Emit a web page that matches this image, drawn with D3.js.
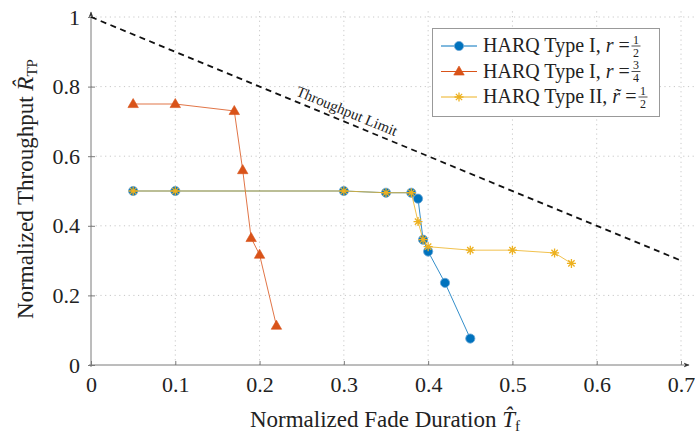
<!DOCTYPE html>
<html>
<head>
<meta charset="utf-8">
<script src="https://cdn.jsdelivr.net/npm/d3@7"></script>
<style>
  body { margin: 0; background: #fff; }
  .grid line { stroke: #c8c8c8; stroke-dasharray: 1.2,3.5; }
  .axis path, .axis line { stroke: #7a7a7a; }
</style>
</head>
<body>
<div id="chart"></div>
<script>
// fade duration / throughput values
var xTicks = [0, 0.1, 0.2, 0.3, 0.4, 0.5, 0.6, 0.7];
var yTicks = [0, 0.2, 0.4, 0.6, 0.8, 1];

var halfX = [0.05, 0.1, 0.3, 0.35, 0.38, 0.388, 0.394, 0.4, 0.42, 0.45];
var halfY = [0.5, 0.5, 0.5, 0.495, 0.495, 0.478, 0.36, 0.326, 0.236, 0.076];

var threeX = [0.05, 0.1, 0.17, 0.18, 0.19, 0.2, 0.22];
var threeY = [0.75, 0.75, 0.73, 0.56, 0.365, 0.317, 0.113];

var typeTwoX = [0.05, 0.1, 0.3, 0.35, 0.38, 0.388, 0.394, 0.4, 0.45, 0.5, 0.55, 0.57];
var typeTwoY = [0.5, 0.5, 0.5, 0.495, 0.495, 0.412, 0.36, 0.34, 0.33, 0.33, 0.322, 0.292];

var limitX = [0, 0.7];
var limitY = [1, 0.3];

var FONT = "Liberation Serif";

function zip(xs, ys) {
  return xs.map(function(x, i) { return {x: x, y: ys[i]}; });
}

var W = 695, H = 434;
var svg = d3.select("#chart").append("svg").attr("width", W).attr("height", H)
  .attr("font-family", FONT);

var x = d3.scaleLinear().domain([0, 0.7]).range([91, 681]);
var y = d3.scaleLinear().domain([0, 1]).range([365, 17]);

// grid
var grid = svg.append("g").attr("class", "grid");
grid.selectAll(".gx").data(xTicks.slice(1)).enter().append("line")
  .attr("x1", function(d) { return x(d); }).attr("x2", function(d) { return x(d); })
  .attr("y1", y(0)).attr("y2", y(1.02));
grid.selectAll(".gy").data(yTicks.slice(1)).enter().append("line")
  .attr("x1", x(0)).attr("x2", x(0.72))
  .attr("y1", function(d) { return y(d); }).attr("y2", function(d) { return y(d); });

// axes
var defs = svg.append("defs");
defs.append("marker").attr("id", "arr").attr("viewBox", "0 0 10 10")
  .attr("refX", 9).attr("refY", 5).attr("markerWidth", 6).attr("markerHeight", 6)
  .attr("orient", "auto")
  .append("path").attr("d", "M0,1 L10,5 L0,9 L3,5 Z").attr("fill", "#333");

var xAxis = svg.append("g").attr("class", "axis")
  .attr("transform", "translate(0," + y(0) + ")")
  .call(d3.axisBottom(x).tickValues(xTicks).tickSize(-4).tickPadding(11)
    .tickFormat(function(d) { return d === 0 ? "0" : d3.format(".1f")(d); }));
xAxis.select(".domain").remove();
xAxis.append("line").attr("x1", x(0) - 2).attr("x2", 689).attr("y1", 0).attr("y2", 0)
  .attr("stroke", "#7a7a7a").attr("marker-end", "url(#arr)");

var yAxis = svg.append("g").attr("class", "axis")
  .attr("transform", "translate(" + x(0) + ",0)")
  .call(d3.axisLeft(y).tickValues(yTicks).tickSize(-4).tickPadding(11)
    .tickFormat(function(d) { return d === 0 || d === 1 ? String(d) : d3.format(".1f")(d); }));
yAxis.select(".domain").remove();
yAxis.selectAll(".tick").append("line").attr("x1", -3).attr("x2", 0).attr("stroke", "#7a7a7a");
yAxis.append("line").attr("x1", 0).attr("x2", 0).attr("y1", y(0) + 2).attr("y2", 12)
  .attr("stroke", "#7a7a7a").attr("marker-end", "url(#arr)");

svg.selectAll(".axis").attr("font-family", FONT).attr("font-size", 22);
svg.selectAll(".axis text").attr("fill", "#222");

// throughput limit
var line = d3.line().x(function(d) { return x(d.x); }).y(function(d) { return y(d.y); });
svg.append("path").attr("d", line(zip(limitX, limitY)))
  .attr("fill", "none").attr("stroke", "#111").attr("stroke-width", 1.8)
  .attr("stroke-dasharray", "6,4.5");
var ang = Math.atan2(y(0) - y(0.7), x(0.7) - x(0)) * 180 / Math.PI;
svg.append("text").attr("transform", "translate(347,111) rotate(" + ang + ")")
  .attr("text-anchor", "middle").attr("dy", "0.35em").attr("font-size", 15).attr("fill", "#222")
  .text("Throughput Limit");

// series
var C_BLUE = "#0072BD", C_RED = "#D95319", C_YEL = "#EDB120";

function star(g, s) {
  g.append("path")
    .attr("d", "M" + (-s) + ",0H" + s + "M0," + (-s) + "V" + s +
      "M" + (-s * 0.7) + "," + (-s * 0.7) + "L" + (s * 0.7) + "," + (s * 0.7) +
      "M" + (-s * 0.7) + "," + (s * 0.7) + "L" + (s * 0.7) + "," + (-s * 0.7))
    .attr("stroke", C_YEL).attr("stroke-width", 1.3).attr("fill", "none");
}
function triangle(g, s) {
  g.append("path").attr("d", "M0," + (-s) + "L" + (s * 0.95) + "," + (s * 0.65) + "L" + (-s * 0.95) + "," + (s * 0.65) + "Z")
    .attr("fill", C_RED).attr("stroke", C_RED).attr("stroke-width", 0.6);
}
function circle(g, r) {
  g.append("circle").attr("r", r).attr("fill", C_BLUE).attr("stroke", "#6aa6d6").attr("stroke-width", 0.8);
}

var series = [
  {pts: zip(halfX, halfY), color: C_BLUE, mark: function(g) { circle(g, 4.6); }},
  {pts: zip(threeX, threeY), color: C_RED, mark: function(g) { triangle(g, 5.5); }},
  {pts: zip(typeTwoX, typeTwoY), color: C_YEL, mark: function(g) { star(g, 4.5); }}
];

series.forEach(function(s) {
  svg.append("path").attr("d", line(s.pts)).attr("fill", "none")
    .attr("stroke", s.color).attr("stroke-width", 1).attr("stroke-opacity", 0.8);
  svg.selectAll(null).data(s.pts).enter().append("g")
    .attr("transform", function(d) { return "translate(" + x(d.x) + "," + y(d.y) + ")"; })
    .each(function() { s.mark(d3.select(this)); });
});

// legend
var lg = svg.append("g");
lg.append("rect").attr("x", 432.5).attr("y", 28.5).attr("width", 227).attr("height", 88)
  .attr("fill", "#fff").attr("stroke", "#999");
var legendRows = [
  {label: "HARQ Type I, ", v: "r", num: "1", den: "2", fx: 636, color: C_BLUE, mark: function(g) { circle(g, 4.6); }},
  {label: "HARQ Type I, ", v: "r", num: "3", den: "4", fx: 636, color: C_RED, mark: function(g) { triangle(g, 5.5); }},
  {label: "HARQ Type II, ", v: "r\u0303", num: "1", den: "2", fx: 643, color: C_YEL, mark: function(g) { star(g, 4.5); }}
];
legendRows.forEach(function(r, i) {
  var cy = 46 + i * 25.5;
  lg.append("line").attr("x1", 441).attr("x2", 477).attr("y1", cy).attr("y2", cy)
    .attr("stroke", r.color).attr("stroke-width", 1);
  r.mark(lg.append("g").attr("transform", "translate(459," + cy + ")"));
  var t = lg.append("text").attr("x", 483).attr("y", cy + 6).attr("font-size", 20).attr("fill", "#222");
  t.append("tspan").text(r.label);
  t.append("tspan").attr("font-style", "italic").text(r.v);
  t.append("tspan").text(" =");
  lg.append("text").attr("x", r.fx).attr("y", cy - 2.5).attr("text-anchor", "middle")
    .attr("font-size", 12).attr("fill", "#222").text(r.num);
  lg.append("line").attr("x1", r.fx - 4.5).attr("x2", r.fx + 4.5).attr("y1", cy).attr("y2", cy)
    .attr("stroke", "#222").attr("stroke-width", 0.8);
  lg.append("text").attr("x", r.fx).attr("y", cy + 10.5).attr("text-anchor", "middle")
    .attr("font-size", 12).attr("fill", "#222").text(r.den);
});

// axis titles
var xt = svg.append("text").attr("x", 385).attr("y", 427).attr("text-anchor", "middle")
  .attr("font-size", 23).attr("fill", "#222");
xt.append("tspan").text("Normalized Fade Duration ");
xt.append("tspan").attr("font-style", "italic").text("T\u0302");
xt.append("tspan").attr("font-size", 15).attr("dy", 4).text("f");

var yt = svg.append("text").attr("transform", "translate(33,189) rotate(-90)")
  .attr("text-anchor", "middle").attr("font-size", 23).attr("fill", "#222");
yt.append("tspan").text("Normalized Throughput ");
yt.append("tspan").attr("font-style", "italic").text("R\u0302");
yt.append("tspan").attr("font-size", 15).attr("dy", 4).text("TP");

svg.selectAll("text").attr("font-family", FONT);
</script>
</body>
</html>
